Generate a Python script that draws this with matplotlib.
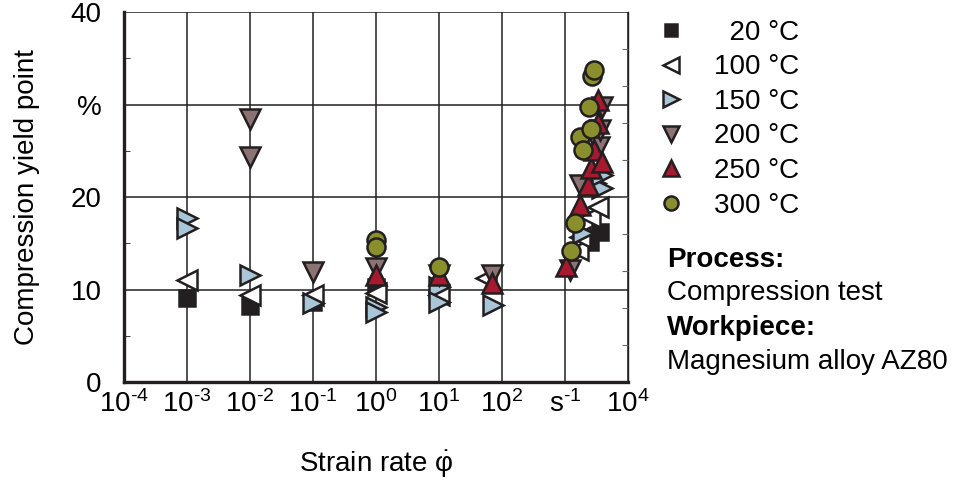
import numpy as np
import matplotlib.pyplot as plt

plt.rcParams['font.family'] = ['Liberation Sans', 'DejaVu Sans']
plt.rcParams['mathtext.fontset'] = 'custom'
plt.rcParams['mathtext.rm'] = 'Liberation Sans'

# compression yield point (%) vs strain rate (1/s)
rate_20 = [1e-3, 1e-2, 1e-1, 1e0, 2500, 3600]
yield_20 = [9.1, 8.2, 8.7, 10.3, 15.1, 16.2]

rate_100 = [1e-3, 1e-2, 1e-1, 1e0, 1e1, 55, 1600, 1750, 2500, 3300]
yield_100 = [11.0, 9.4, 9.4, 9.6, 9.4, 11.2, 14.3, 15.7, 17.8, 18.9]

rate_150 = [1e-3, 1e-3, 1e-2, 1e-1, 1e0, 1e0, 1e1, 1e1, 72, 1900, 3000, 3800, 3800]
yield_150 = [17.7, 16.6, 11.6, 8.5, 8.1, 7.6, 10.3, 8.7, 8.3, 16.1, 21.5, 21.0, 22.4]

rate_200 = [1e-2, 1e-2, 1e-1, 1e0, 1e1, 69, 1200, 1750, 3500, 3600, 3800]
yield_200 = [28.4, 24.3, 11.9, 12.3, 11.6, 11.6, 12.1, 21.3, 25.4, 27.2, 29.7]

rate_250 = [1e0, 1e1, 69, 1050, 1700, 2300, 2600, 2900, 3300, 3300, 3800]
yield_250 = [11.6, 11.6, 10.7, 12.6, 19.1, 21.3, 23.1, 25.1, 28.0, 30.5, 23.8]

rate_300 = [1e0, 1e0, 1e1, 1250, 1450, 1750, 1950, 2550, 2400, 2700, 2900]
yield_300 = [15.4, 14.6, 12.4, 14.2, 17.2, 26.5, 25.1, 27.4, 29.7, 33.1, 33.7]

series = [
    ('  20 °C', rate_20, yield_20, 's', '#231f20', 11),
    ('100 °C', rate_100, yield_100, '<', '#ffffff', 14.5),
    ('150 °C', rate_150, yield_150, '>', '#a9c6d8', 14.5),
    ('200 °C', rate_200, yield_200, 'v', '#8c7373', 14.5),
    ('250 °C', rate_250, yield_250, '^', '#a6192e', 14.5),
    ('300 °C', rate_300, yield_300, 'o', '#8a8f2e', 13),
]

hy = '\u2010'
x_ticks = [1e-4, 1e-3, 1e-2, 1e-1, 1e0, 1e1, 1e2, 1e3, 1e4]
x_labels = [rf'$\mathregular{{10^{{{hy}4}}}}$', rf'$\mathregular{{10^{{{hy}3}}}}$',
            rf'$\mathregular{{10^{{{hy}2}}}}$', rf'$\mathregular{{10^{{{hy}1}}}}$',
            r'$\mathregular{10^{0}}$', r'$\mathregular{10^{1}}$',
            r'$\mathregular{10^{2}}$', rf'$\mathregular{{s^{{{hy}1}}}}$', r'$\mathregular{10^{4}}$']
y_ticks = [0, 10, 20, 30, 40]
y_labels = ['0', '10', '20', '%', '40']

fig = plt.figure(figsize=(9.57, 4.8), dpi=100)
ax = fig.add_axes([0.1296, 0.204, 0.5266, 0.771])

dark = '#231f20'
for label, xs, ys, m, c, ms in series:
    ax.plot(xs, ys, linestyle='none', marker=m, markersize=ms, markerfacecolor=c,
            markeredgecolor=dark, markeredgewidth=1.8, label=label, zorder=3)

ax.set_xscale('log')
ax.set_xlim(1e-4, 1e4)
ax.set_ylim(0, 40)
ax.set_xticks(x_ticks)
ax.set_xticklabels(x_labels)
ax.set_yticks(y_ticks)
ax.set_yticklabels(y_labels)
ax.set_yticks([5, 15, 25, 35], minor=True)

ax.grid(True, which='major', color=dark, linewidth=1.1)
ax.tick_params(which='major', length=0, labelsize=20, colors='black')
ax.tick_params(axis='y', which='major', pad=16)
ax.tick_params(axis='x', which='major', pad=6)
ax.tick_params(which='minor', direction='in', length=4, color='#888888', labelbottom=False)
ax.tick_params(axis='y', which='minor', color=dark)

ax.spines['top'].set_visible(False)
ax.spines['left'].set_linewidth(2.4)
ax.spines['bottom'].set_linewidth(2.4)
ax.spines['right'].set_linewidth(1.0)
for s in ax.spines.values():
    s.set_color(dark)

# extra ticks on right spine
ax2 = ax.twinx()
ax2.set_ylim(0, 40)
ax2.set_yticks(np.arange(4, 40, 4))
ax2.set_yticklabels([])
ax2.tick_params(axis='y', direction='in', length=4, color='#666666')
for s in ax2.spines.values():
    s.set_visible(False)

ax.set_ylabel('Compression yield point', fontsize=20, labelpad=22)
ax.set_xlabel(r'Strain rate $\mathregular{\dot{φ}}$', fontsize=20, labelpad=22)

handles, labels = ax.get_legend_handles_labels()
fig.legend(handles, labels, loc='upper left', bbox_to_anchor=(0.672, 0.988),
           frameon=False, fontsize=20, markerscale=0.78, handlelength=1.0,
           handletextpad=1.07, labelspacing=0.31, borderpad=0)

fig.text(0.697, 0.458, 'Process:', fontsize=20, fontweight='bold', va='center')
fig.text(0.697, 0.390, 'Compression test', fontsize=20, va='center')
fig.text(0.697, 0.317, 'Workpiece:', fontsize=20, fontweight='bold', va='center')
fig.text(0.697, 0.246, 'Magnesium alloy AZ80', fontsize=20, va='center')

fig.savefig('out.png', dpi=100)
